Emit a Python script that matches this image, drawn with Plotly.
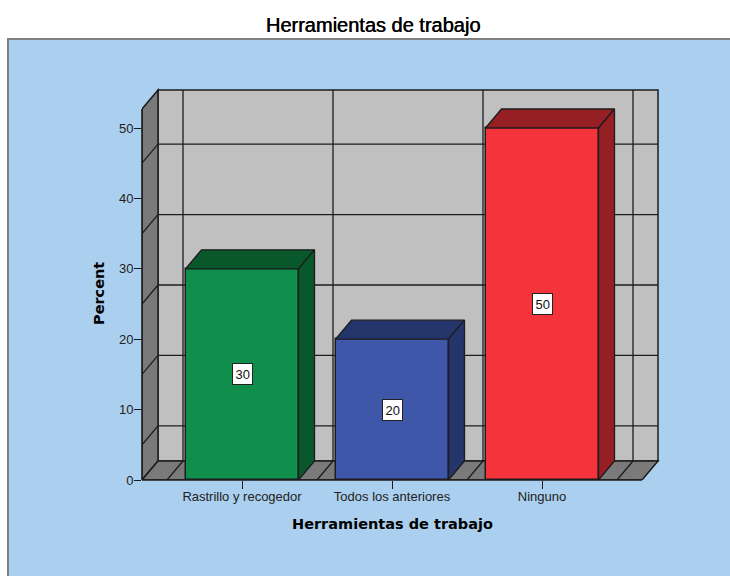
import plotly.graph_objects as go

categories = ["Rastrillo y recogedor", "Todos los anteriores", "Ninguno"]
percent = [30, 20, 50]
labels = ["30", "20", "50"]
y_ticks = [0, 10, 20, 30, 40, 50]
grid_values = [5, 15, 25, 35, 45]
grid_bounds = [-0.5, 0.5, 1.5, 2.5]
front_colors = ["#0F8F4B", "#3F57A8", "#F4333B"]
dark_colors = ["#09582B", "#24356B", "#961F24"]
x_title = "Herramientas de trabajo"
y_title = "Percent"

W, H = 730, 576
PL, PR, PT, PB = 142, 660, 88, 480
X_UNIT, Y_UNIT = 150.0, 7.04
X0_PX = 242
DX, DY = 16 / X_UNIT, 19 / Y_UNIT
XMIN, XMAX = (PL - X0_PX) / X_UNIT, (642 - X0_PX) / X_UNIT
YTOP = (PB - 109) / Y_UNIT
BAR_W = 113 / X_UNIT
EDGE = "#1c1c1c"


def px(v):
    return v / W


def py(v):
    return 1 - v / H


def poly(pts):
    return "M " + " L ".join(f"{a} {b}" for a, b in pts) + " Z"


def data_line(x0, y0, x1, y1, width=1.3):
    return dict(type="line", xref="x", yref="y", x0=x0, y0=y0, x1=x1, y1=y1,
                line=dict(color=EDGE, width=width), layer="below")


def paper_line(x0, y0, x1, y1, width=1.6):
    return dict(type="line", xref="paper", yref="paper", x0=px(x0), y0=py(y0), x1=px(x1), y1=py(y1),
                line=dict(color=EDGE, width=width), layer="above")


shapes = [
    dict(type="rect", xref="paper", yref="paper", x0=px(8), y0=py(H + 20), x1=px(W + 20), y1=py(39),
         fillcolor="#ABCFEE", line=dict(color="#7f7f7f", width=2), layer="below"),
    dict(type="path", xref="x", yref="y", layer="below", fillcolor="#C0C0C0", line=dict(color=EDGE, width=1.5),
         path=poly([(XMIN + DX, DY), (XMAX + DX, DY), (XMAX + DX, YTOP + DY), (XMIN + DX, YTOP + DY)])),
    dict(type="path", xref="x", yref="y", layer="below", fillcolor="#7A7A7A", line=dict(color=EDGE, width=1.5),
         path=poly([(XMIN, 0), (XMIN + DX, DY), (XMIN + DX, YTOP + DY), (XMIN, YTOP)])),
    dict(type="path", xref="x", yref="y", layer="below", fillcolor="#7A7A7A", line=dict(color=EDGE, width=1.5),
         path=poly([(XMIN, 0), (XMAX, 0), (XMAX + DX, DY), (XMIN + DX, DY)])),
]
for v in grid_values:
    shapes.append(data_line(XMIN + DX, v + DY, XMAX + DX, v + DY))
    shapes.append(data_line(XMIN, v, XMIN + DX, v + DY))
for b in grid_bounds:
    shapes.append(data_line(b + DX, DY, b + DX, YTOP + DY))
    shapes.append(data_line(b, 0, b + DX, DY))
shapes.append(paper_line(PL, PB, 642, PB))
shapes.append(paper_line(PL, PB, PL, 109))

fig = go.Figure()
fig.add_trace(go.Bar(
    x=list(range(len(categories))), y=percent, width=BAR_W,
    marker=dict(color=front_colors, line=dict(color=EDGE, width=1.5)),
    showlegend=False, hoverinfo="skip",
))
annotations = []
for i, (v, lab) in enumerate(zip(percent, labels)):
    l, r = i - BAR_W / 2, i + BAR_W / 2
    top = [(l, v), (r, v), (r + DX, v + DY), (l + DX, v + DY), (l, v)]
    side = [(r, 0), (r + DX, DY), (r + DX, v + DY), (r, v), (r, 0)]
    for pts in (top, side):
        fig.add_trace(go.Scatter(
            x=[p[0] for p in pts], y=[p[1] for p in pts], mode="lines", fill="toself",
            fillcolor=dark_colors[i], line=dict(color=EDGE, width=1.3),
            showlegend=False, hoverinfo="skip",
        ))
    annotations.append(dict(
        x=i, y=v / 2, xref="x", yref="y", text=lab, showarrow=False,
        font=dict(family="Liberation Sans", size=13, color="#111111"),
        bgcolor="#FFFFFF", bordercolor="#222222", borderwidth=1, borderpad=2.5,
    ))
annotations.append(dict(
    x=px(392), y=py(524), xref="paper", yref="paper", text=x_title, showarrow=False,
    xanchor="center", yanchor="middle",
    font=dict(family="DejaVu Sans", size=14.5, color="#000000", weight="bold"),
))
annotations.append(dict(
    x=px(99), y=py(294), xref="paper", yref="paper", text=y_title, showarrow=False, textangle=-90,
    xanchor="center", yanchor="middle",
    font=dict(family="DejaVu Sans", size=14.5, color="#000000", weight="bold"),
))

fig.update_layout(
    width=W, height=H, margin=dict(l=0, r=0, t=0, b=0), autosize=False,
    paper_bgcolor="#FFFFFF", plot_bgcolor="rgba(0,0,0,0)",
    title=dict(text="Herramientas de trabajo", x=373 / W, xanchor="center", y=py(25), yanchor="middle",
               font=dict(family="Liberation Sans", size=20, color="#000000", shadow="0.5px 0 0 #000000")),
    xaxis=dict(domain=[px(PL), px(PR)], range=[XMIN, (PR - X0_PX) / X_UNIT], automargin=False,
               tickmode="array", tickvals=list(range(len(categories))), ticktext=categories,
               ticks="outside", ticklen=8, tickcolor=EDGE, tickwidth=1.3, ticklabelstandoff=-4,
               tickfont=dict(family="Liberation Sans", size=13, color="#222222"),
               showgrid=False, zeroline=False, showline=False),
    yaxis=dict(domain=[py(PB), py(PT)], range=[0, (PB - PT) / Y_UNIT], automargin=False,
               tickmode="array", tickvals=y_ticks,
               ticks="outside", ticklen=7, tickcolor=EDGE, tickwidth=1.3, ticklabelstandoff=-2,
               tickfont=dict(family="Liberation Sans", size=13, color="#222222"),
               showgrid=False, zeroline=False, showline=False),
    shapes=shapes, annotations=annotations, bargap=0,
)
fig.write_html("out.html", config={"displayModeBar": False},
               post_script="document.body.style.margin='0';")
